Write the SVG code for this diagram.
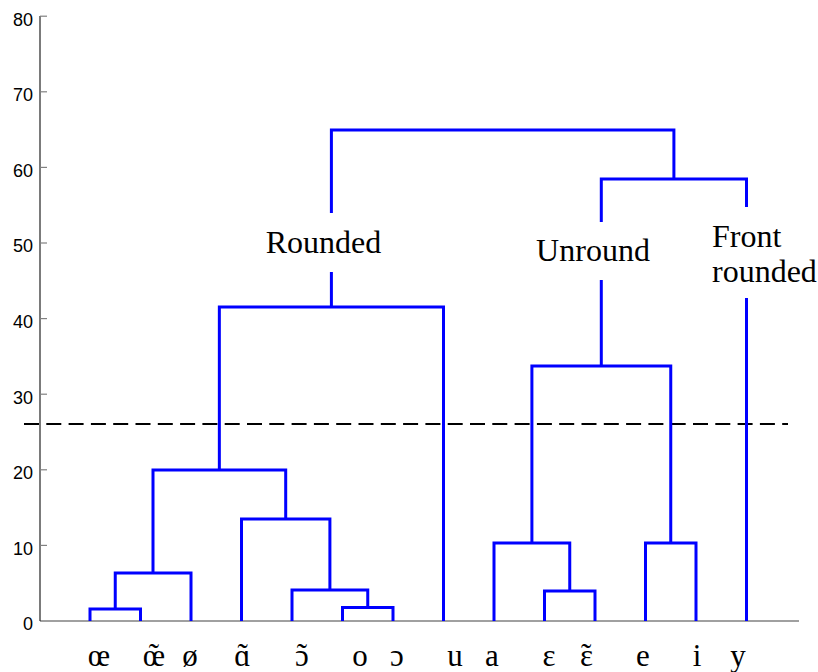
<svg xmlns="http://www.w3.org/2000/svg" width="818" height="672" viewBox="0 0 818 672">
<style>
.tick{font-family:'Liberation Sans',Arial,sans-serif;font-size:18px;fill:#000;text-anchor:end}
.leaf{font-family:'Liberation Serif','Times New Roman',serif;font-size:31px;fill:#000;text-anchor:middle}
.leafs{font-family:'Liberation Serif','Times New Roman',serif;font-size:31px;fill:#000}
.lab{font-family:'Liberation Serif','Times New Roman',serif;font-size:32px;fill:#000}
.br{fill:none;stroke:#0000ff;stroke-width:3;stroke-linejoin:miter;stroke-linecap:butt}
.tk{stroke:#808080;stroke-width:1.2}
</style>
<rect width="818" height="672" fill="#fff"/>
<g id="axes">
  <line x1="40" y1="621" x2="799" y2="621" stroke="#808080" stroke-width="1.5"/>
  <line x1="40" y1="16" x2="40" y2="621" stroke="#222" stroke-width="1.2"/>
  <g class="tk">
    <line x1="40" y1="16.2" x2="47" y2="16.2"/>
    <line x1="40" y1="91.8" x2="47" y2="91.8"/>
    <line x1="40" y1="167.4" x2="47" y2="167.4"/>
    <line x1="40" y1="243" x2="47" y2="243"/>
    <line x1="40" y1="318.6" x2="47" y2="318.6"/>
    <line x1="40" y1="394.2" x2="47" y2="394.2"/>
    <line x1="40" y1="469.8" x2="47" y2="469.8"/>
    <line x1="40" y1="545.4" x2="47" y2="545.4"/>
  </g>
  <text class="tick" x="33" y="25.5">80</text>
  <text class="tick" x="33" y="101.1">70</text>
  <text class="tick" x="33" y="176.7">60</text>
  <text class="tick" x="33" y="252.3">50</text>
  <text class="tick" x="33" y="327.9">40</text>
  <text class="tick" x="33" y="403.5">30</text>
  <text class="tick" x="33" y="479.1">20</text>
  <text class="tick" x="33" y="554.7">10</text>
  <text class="tick" x="33" y="630.3">0</text>
</g>
<line id="cutoff" x1="24" y1="424" x2="788" y2="424" stroke="#000" stroke-width="2" stroke-dasharray="15 7.3"/>
<g id="connectors" class="br">
  <path d="M90,621 V609 H140.5 V621"/>
  <path d="M115.25,609 V573 H191 V621"/>
  <path d="M342.5,621 V607.5 H393 V621"/>
  <path d="M292,621 V590 H367.75 V607.5"/>
  <path d="M241.5,621 V519 H329.9 V590"/>
  <path d="M153,573 V470 H285.7 V519"/>
  <path d="M219.35,470 V307 H443.5 V621"/>
  <path d="M331.4,307 V272"/>
  <path d="M544.5,621 V591 H595 V621"/>
  <path d="M494,621 V543 H569.75 V591"/>
  <path d="M645.5,621 V543 H696 V621"/>
  <path d="M531.9,543 V366 H670.75 V543"/>
  <path d="M601.3,366 V280"/>
  <path d="M746.5,621 V298"/>
  <path d="M601.3,222 V179 H746.5 V207"/>
  <path d="M331.4,213 V130 H673.9 V179"/>
</g>
<g id="cluster-rounded"><text class="lab" x="323.5" y="253" text-anchor="middle">Rounded</text></g>
<g id="cluster-unround"><text class="lab" x="593" y="261" text-anchor="middle">Unround</text></g>
<g id="cluster-front-rounded"><text class="lab" x="712" y="246.5">Front</text><text class="lab" x="712" y="282">rounded</text></g>
<g id="leaves">
  <g id="leaf-oe"><text class="leaf" x="99" y="666">œ</text></g>
  <g id="leaf-oe-nasal"><text class="leafs" x="142.8" y="666">œ<tspan dx="-16.5" dy="-1">˜</tspan></text></g>
  <g id="leaf-o-slash"><text class="leaf" x="190" y="666">ø</text></g>
  <g id="leaf-a-nasal"><text class="leafs" x="234.3" y="666">ɑ<tspan dx="-12.9" dy="-1">˜</tspan></text></g>
  <g id="leaf-open-o-nasal"><text class="leafs" x="295.1" y="666">ɔ<tspan dx="-12.1" dy="-1">˜</tspan></text></g>
  <g id="leaf-o"><text class="leaf" x="360" y="666">o</text></g>
  <g id="leaf-open-o"><text class="leaf" x="397" y="666">ɔ</text></g>
  <g id="leaf-u"><text class="leaf" x="455" y="666">u</text></g>
  <g id="leaf-a"><text class="leaf" x="492" y="666">a</text></g>
  <g id="leaf-epsilon"><text class="leaf" x="549" y="666">ɛ</text></g>
  <g id="leaf-epsilon-nasal"><text class="leafs" x="580.1" y="666">ɛ<tspan dx="-12.1" dy="-1">˜</tspan></text></g>
  <g id="leaf-e"><text class="leaf" x="643" y="666">e</text></g>
  <g id="leaf-i"><text class="leaf" x="697" y="666">i</text></g>
  <g id="leaf-y"><text class="leaf" x="738" y="666">y</text></g>
</g>
</svg>
